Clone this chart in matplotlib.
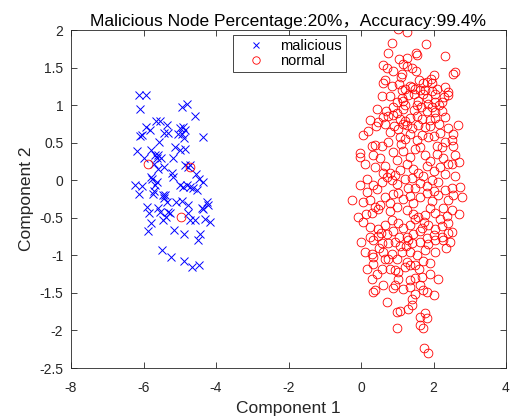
import matplotlib
matplotlib.use("Agg")
import matplotlib.pyplot as plt

plt.rcParams['font.family'] = ['Liberation Sans', 'Noto Sans CJK SC', 'DejaVu Sans']
plt.rcParams['axes.unicode_minus'] = False

title_text = "Malicious Node Percentage:20%，Accuracy:99.4%"
x_label = "Component 1"
y_label = "Component 2"
legend_labels = ["malicious", "normal"]
x_ticks = [-8, -6, -4, -2, 0, 2, 4]
y_ticks = [-2.5, -2, -1.5, -1, -0.5, 0, 0.5, 1, 1.5, 2]
y_tick_labels = ["-2.5", "-2", "-1.5", "-1", "-0.5", "0", "0.5", "1", "1.5", "2"]

malicious_x = [-6.12, -5.94, -6.10, -4.93, -4.81, -4.58, -5.66, -5.54, -5.36, -5.94, -5.82,
               -6.10, -6.05, -5.43, -5.33, -4.99, -4.90, -4.86, -5.04, -4.95, -4.88, -4.37,
               -5.56, -5.13, -4.99, -4.86, -6.19, -5.79, -5.68, -5.59, -5.62, -5.52, -5.98,
               -5.18, -5.70, -5.61, -5.43, -4.86, -4.72, -4.76, -5.22, -5.18, -4.56, -4.47,
               -4.35, -5.79, -5.76, -5.64, -5.68, -6.23, -6.05, -6.12, -4.99, -4.90, -4.81,
               -4.72, -4.63, -4.53, -5.70, -5.73, -5.47, -5.41, -5.43, -5.36, -5.09, -4.95,
               -4.76, -4.26, -4.23, -4.40, -4.35, -5.91, -5.85, -5.61, -5.54, -5.33, -5.27,
               -5.39, -5.47, -4.78, -4.72, -4.58, -4.30, -4.17, -5.79, -5.88, -5.15, -4.87,
               -4.44, -4.51, -5.50, -5.24, -4.87, -4.67, -4.47]
malicious_y = [1.13, 1.13, 0.95, 0.98, 1.02, 0.85, 0.79, 0.79, 0.74, 0.71, 0.67,
               0.59, 0.60, 0.63, 0.63, 0.70, 0.71, 0.67, 0.62, 0.61, 0.56, 0.58,
               0.51, 0.44, 0.40, 0.41, 0.39, 0.40, 0.34, 0.33, 0.29, 0.29, 0.29,
               0.29, 0.22, 0.15, 0.18, 0.20, 0.20, 0.18, 0.10, 0.04, 0.08, 0.02,
               -0.02, 0.04, 0.02, -0.03, -0.07, -0.07, -0.08, -0.19, -0.07, -0.09, -0.07,
               -0.09, -0.11, -0.13, -0.15, -0.18, -0.20, -0.20, -0.24, -0.29, -0.29, -0.27,
               -0.33, -0.29, -0.33, -0.37, -0.38, -0.36, -0.44, -0.37, -0.42, -0.42, -0.44,
               -0.49, -0.53, -0.44, -0.53, -0.53, -0.51, -0.55, -0.57, -0.68, -0.66, -0.71,
               -0.71, -0.80, -0.93, -1.02, -1.07, -1.15, -1.13]

normal_x = [
    # upper part
    1.03, 1.28, 0.85, 1.78, 0.75, 1.51, 1.54, 2.32, 1.05, 1.28, 1.26, 0.62, 0.71, 0.89, 1.12,
    1.10, 1.52, 2.59, 2.55, 0.66, 0.60, 1.92, 1.72, 1.81, 1.35, 1.40, 1.21, 1.12, 1.49, 1.63,
    1.77, 1.97, 2.32, 2.41, 2.29, 0.59, 1.12, 1.31, 1.81, 1.56, 0.98, 2.04, 2.23, 0.89, 1.21,
    1.54,
    0.45, 0.70, 1.00, 1.15, 1.45, 1.65, 1.95, 2.15, 0.80, 1.45, 1.70, 2.10, 1.05, 0.85, 1.60,
    2.00, 1.15, 1.40, 1.95, 2.04, 2.41, 1.17, 1.86,
    0.25, 0.48, 0.62, 0.75, 0.89, 1.08, 1.21, 1.35, 1.54, 1.67, 1.90, 2.04, 2.32, 1.81, 2.04,
    2.23, 1.03, 1.26, 1.40, 1.58, 1.77, 2.67, 2.50, 2.55, 2.59, 2.50, 2.69, 2.50, 2.73,
    -0.03, -0.03, -0.03,
    0.40, 0.65, 0.90, 1.15, 1.90, 2.15, 2.40, 0.20, 2.55,
    # core
    0.06, 0.39, 0.57, 0.75, 0.80, 1.08, 1.21, 1.35, 1.54, 1.67, 1.86, 2.00, 2.18, 2.32, 2.23,
    0.34, 0.52, 0.89, 0.98, 1.17, 1.35, 1.49, 1.63, 1.77, 1.90, 2.09, 2.27, 2.41,
    0.11, 0.39, 0.66, 0.80, 0.94, 0.71, 0.85, 1.08, 1.26, 1.44, 1.58, 1.81, 2.00, 2.18, 2.32,
    0.16, 0.34, 0.16, 0.43, 0.57, 0.98, 1.21, 1.40, 1.49, 1.63, 1.81, 1.95, 2.13, 2.32,
    0.06, 0.25, 0.39, 0.52, 0.66, 0.89, 1.03, 1.17, 1.35, 1.44, 1.63, 1.81, 1.95, 2.13, 2.27, 2.41,
    0.29, 0.48, 0.80, 0.98, 1.26, 1.44, 1.58, 1.77, 1.90, 2.04, 2.18, 2.36,
    0.06, 0.25, 0.48, 0.66, 0.85, 1.03, 1.17, 1.35, 1.49, 1.67, 1.86, 2.04, 2.23, 2.41,
    0.25, 0.48, 0.71, 0.89, 1.26, 1.44, 1.81, 2.00, 2.23,
    0.60, 1.70, 0.30, 2.10, 1.30, 0.80, 1.75, 2.50, 2.60, 0.15, 1.10, 2.00,
    # lower part
    -0.26, 2.78, 2.55, -0.07, 2.69, 2.50,
    0.00, 0.34, 0.57, 0.75, 0.94, 1.08, 1.31, 1.40, 1.63, 2.04, 2.27,
    0.29, 0.34, 0.62, 0.85, 1.12, 1.35, 1.54, 1.77, 1.72,
    0.16, 0.34, 0.57, 0.80, 0.94, 1.03, 1.26, 1.35, 1.49, 1.67, 2.13, 1.03, 0.29,
    0.50, 0.75, 1.00, 1.20, 1.60, 1.90, 2.05, 0.45, 1.50, 0.10, 2.35, 1.90, 0.65, 1.25,
    1.85, 2.45, 0.95, 1.15, 0.55, 1.05, 1.62, 2.40,
    0.62, 0.39, 0.34, 0.89, 1.35, 1.35, 1.63, 1.72, 1.81, 2.00, 1.49, 1.40, 0.71, 1.40,
    1.31, 1.08, 0.98, 1.63, 1.77, 1.81, 1.63, 1.72, 0.98, 1.75, 1.84,
    # misclassified in malicious cluster
    -5.87, -4.71, -4.97]
normal_y = [
    2.01, 1.98, 1.83, 1.81, 1.70, 1.69, 1.67, 1.65, 1.61, 1.63, 1.52, 1.54, 1.50, 1.46, 1.42,
    1.38, 1.46, 1.44, 1.41, 1.34, 1.29, 1.35, 1.29, 1.31, 1.26, 1.24, 1.22, 1.20, 1.22, 1.20,
    1.20, 1.19, 1.24, 1.18, 1.11, 1.12, 1.10, 1.13, 1.10, 1.06, 1.04, 1.04, 1.04, 0.97, 1.00,
    1.00,
    0.95, 0.92, 0.90, 0.95, 0.93, 0.97, 0.97, 1.00, 1.12, 1.15, 1.15, 1.22, 1.28, 1.25, 1.33,
    1.40, 1.55, 1.50, 1.30, 1.15, 1.14, 1.06, 1.02,
    0.80, 0.78, 0.84, 0.86, 0.87, 0.81, 0.79, 0.83, 0.85, 0.82, 0.80, 0.83, 0.84, 0.92, 0.91,
    0.92, 0.68, 0.73, 0.69, 0.73, 0.71, 0.74, 0.53, 0.46, 0.33, 0.21, 0.24, -0.11, -0.09,
    0.36, 0.31, -0.07,
    0.72, 0.75, 0.72, 0.75, 0.72, 0.75, 0.70, 0.65, 0.62,
    0.60, 0.47, 0.45, 0.51, 0.64, 0.58, 0.55, 0.62, 0.53, 0.60, 0.57, 0.59, 0.63, 0.51, 0.44,
    0.33, 0.29, 0.37, 0.27, 0.39, 0.31, 0.41, 0.44, 0.34, 0.26, 0.35, 0.30, 0.22,
    0.21, 0.18, 0.19, 0.10, 0.07, 0.04, 0.00, 0.14, 0.22, 0.15, 0.10, 0.19, 0.12, 0.17, 0.08,
    0.02, -0.07, -0.16, -0.12, -0.03, -0.05, 0.01, 0.03, -0.10, -0.04, -0.08, 0.00, -0.02, -0.13,
    -0.29, -0.26, -0.35, -0.33, -0.22, -0.19, -0.17, -0.25, -0.21, -0.30, -0.23, -0.17, -0.28, -0.20, -0.37, -0.26,
    -0.43, -0.38, -0.41, -0.35, -0.40, -0.45, -0.49, -0.46, -0.37, -0.43, -0.52, -0.48,
    -0.55, -0.62, -0.65, -0.59, -0.53, -0.57, -0.64, -0.59, -0.51, -0.63, -0.60, -0.65, -0.61, -0.57,
    -0.76, -0.74, -0.71, -0.68, -0.76, -0.72, -0.77, -0.73, -0.75,
    0.10, 0.05, 0.45, 0.45, -0.10, -0.30, -0.55, -0.40, 0.05, -0.45, 0.48, -0.15,
    -0.26, -0.23, -0.20, -0.49, -0.45, -0.69,
    -0.82, -0.80, -0.83, -0.84, -0.82, -0.87, -0.80, -0.84, -0.82, -0.80, -0.80,
    -0.98, -1.02, -0.95, -0.98, -0.95, -0.95, -1.00, -0.93, -1.07,
    -1.18, -1.11, -1.18, -1.18, -1.20, -1.22, -1.09, -1.13, -1.13, -1.29, -1.31, -1.31, -1.31,
    -0.90, -1.05, -1.05, -1.15, -1.18, -1.10, -0.95, -1.25, -1.30, -0.95, -0.90, -1.25, -1.05, -0.88,
    -0.85, -0.82, -1.40, -1.45, -0.70, -0.75, -0.68, -0.70,
    -1.40, -1.46, -1.49, -1.44, -1.33, -1.42, -1.40, -1.46, -1.49, -1.53, -1.51, -1.58, -1.62, -1.66,
    -1.71, -1.74, -1.75, -1.82, -1.77, -1.84, -1.93, -1.97, -1.97, -2.24, -2.30,
    0.22, 0.18, -0.49]

axis_color = (0.15, 0.15, 0.15)

fig = plt.figure(figsize=(5.12, 4.18), dpi=100)
ax = fig.add_axes([71/512, 1 - 368/418, 435/512, 338/418])

ax.plot(malicious_x, malicious_y, linestyle='none', marker='x', color=(0, 0, 1),
        markersize=5.5, markeredgewidth=0.7, label=legend_labels[0])
ax.plot(normal_x, normal_y, linestyle='none', marker='o', markerfacecolor='none',
        markeredgecolor=(1, 0, 0), markersize=6.3, markeredgewidth=0.6, label=legend_labels[1])

ax.set_xlim(-8, 4)
ax.set_ylim(-2.5, 2)
ax.set_xticks(x_ticks)
ax.set_xticklabels([str(t) for t in x_ticks])
ax.set_yticks(y_ticks)
ax.set_yticklabels(y_tick_labels)

ax.tick_params(direction='in', length=4, width=0.6, top=True, right=True,
               labelsize=10, colors=axis_color)
ax.tick_params(axis='x', pad=9.5)
ax.tick_params(axis='y', pad=5.5)
for sp in ax.spines.values():
    sp.set_linewidth(0.6)
    sp.set_color(axis_color)

ax.set_xlabel(x_label, fontsize=12.5, color=axis_color, labelpad=4)
ax.set_ylabel(y_label, fontsize=12.5, color=axis_color, labelpad=4)
ax.set_title(title_text, fontsize=12.5, color='black', pad=3)

leg = ax.legend(loc='upper left', bbox_to_anchor=(0.3724, 0.985), fontsize=10.5,
                frameon=True, fancybox=False, edgecolor=axis_color, framealpha=1,
                borderpad=0.25, handlelength=2.6, handletextpad=0.4, labelspacing=0.1,
                borderaxespad=0, markerscale=0.85)
leg.get_frame().set_linewidth(0.6)

fig.savefig("out.png", dpi=100)
